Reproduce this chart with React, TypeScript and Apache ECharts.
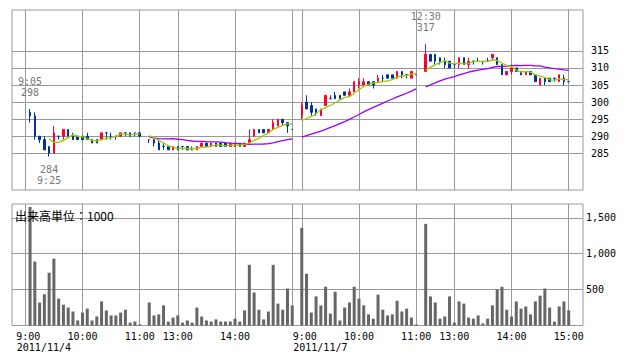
import React, { useEffect, useRef } from 'react';
import * as echarts from 'echarts';

// ---- data ----
const DATES = ['2011/11/4', '2011/11/7'];

// 5-minute bars: [open, close, low, high]
// day 1 morning, 9:05 - 11:00
const day1AM: number[][] = [
  [297, 296, 294, 298], [296, 290, 289, 297], [290, 289, 288, 290], [289, 286, 286, 290],
  [287, 285, 284, 287], [285, 291, 285, 293], [290, 290, 289, 290], [290, 292, 289, 292],
  [292, 290, 290, 292], [290, 289, 289, 291], [290, 289, 289, 290], [290, 289, 289, 290],
  [290, 289, 289, 291], [289, 288, 288, 289], [289, 288, 288, 289], [289, 291, 289, 291],
  [291, 291, 289, 291], [290, 290, 289, 291], [290, 290, 289, 290], [290, 291, 290, 291],
  [291, 291, 290, 291], [291, 290, 290, 291], [291, 291, 290, 291], [291, 290, 290, 291],
];
// day 1 afternoon, 12:30 - 15:00
const day1PM: number[][] = [
  [289, 289, 288, 289], [289, 288, 287, 289], [288, 286, 286, 289], [287, 287, 286, 288],
  [287, 286, 286, 287], [286, 287, 286, 287], [287, 286, 286, 287], [287, 287, 286, 287],
  [287, 286, 286, 287], [286, 286, 286, 287], [286, 287, 286, 287], [287, 288, 287, 288],
  [288, 287, 287, 288], [287, 288, 287, 288], [288, 287, 287, 288], [288, 287, 287, 288],
  [288, 287, 287, 288], [287, 288, 287, 288], [287, 288, 287, 288], [288, 287, 287, 288],
  [287, 288, 287, 288], [288, 289, 288, 292], [290, 292, 290, 292], [292, 291, 291, 292],
  [292, 291, 291, 292], [291, 292, 291, 292], [292, 294, 292, 295], [293, 295, 293, 295],
  [295, 294, 293, 295], [294, 293, 291, 294], [292, 292, 292, 292],
];
// day 2 morning, 9:00 - 11:00
const day2AM: number[][] = [
  [296, 299, 295, 300], [300, 298, 298, 302], [299, 297, 296, 300], [298, 297, 296, 298],
  [296, 298, 296, 298], [299, 302, 299, 302], [301, 301, 301, 302], [302, 301, 301, 303],
  [302, 301, 301, 302], [303, 302, 302, 303], [302, 303, 302, 304], [303, 306, 303, 306],
  [305, 306, 304, 307], [305, 306, 305, 307], [306, 305, 305, 306], [306, 305, 304, 306],
  [306, 307, 306, 308], [307, 307, 306, 308], [308, 307, 307, 308], [308, 307, 307, 308],
  [307, 309, 307, 309], [309, 308, 307, 309], [308, 308, 307, 308], [307, 309, 307, 309],
  [308, 308, 308, 308],
];
// day 2 afternoon, 12:30 - 15:00
const day2PM: number[][] = [
  [309, 314, 309, 317], [314, 312, 312, 314], [314, 312, 311, 314], [313, 312, 311, 313],
  [312, 311, 310, 313], [312, 310, 310, 312], [311, 311, 310, 311], [311, 313, 310, 313],
  [313, 311, 311, 313], [311, 312, 310, 313], [312, 312, 311, 312], [312, 312, 312, 313],
  [312, 312, 311, 312], [312, 312, 312, 313], [313, 314, 312, 314], [313, 311, 311, 313],
  [311, 308, 308, 311], [308, 309, 308, 309], [309, 310, 308, 311], [310, 309, 309, 310],
  [309, 308, 308, 309], [308, 309, 308, 309], [309, 308, 308, 309], [308, 306, 306, 308],
  [305, 307, 305, 307], [307, 306, 305, 307], [307, 306, 306, 307], [307, 307, 306, 307],
  [306, 308, 306, 308], [307, 306, 305, 308], [306, 306, 306, 306],
];

// volume (thousand shares)
const vol1AM = [1650, 890, 320, 435, 735, 930, 375, 290, 250, 195, 70, 180, 235, 70, 125, 335, 210, 140, 140, 180, 220, 40, 55, 15];
const vol1PM = [320, 140, 155, 280, 55, 110, 140, 40, 70, 40, 250, 125, 70, 55, 85, 55, 55, 55, 95, 55, 210, 845, 460, 220, 85, 195, 845, 305, 220, 515, 280];
const vol2AM = [1360, 720, 180, 405, 280, 540, 165, 470, 70, 250, 320, 540, 375, 280, 155, 95, 430, 220, 140, 155, 345, 195, 235, 110, 15];
const vol2PM = [1415, 405, 320, 95, 125, 405, 40, 335, 305, 110, 95, 140, 30, 95, 280, 500, 540, 220, 125, 335, 235, 265, 155, 335, 415, 515, 250, 55, 265, 335, 210];

const SESSIONS = [
  { day: 0, start: '9:05', bars: day1AM, vols: vol1AM },
  { day: 0, start: '12:30', bars: day1PM, vols: vol1PM },
  { day: 1, start: '9:00', bars: day2AM, vols: vol2AM },
  { day: 1, start: '12:30', bars: day2PM, vols: vol2PM },
];

const GRID_TIMES = ['9:00', '10:00', '11:00', '13:00', '14:00', '15:00'];
const PRICE_TICKS = [285, 290, 295, 300, 305, 310, 315];
const VOLUME_TICKS = [500, 1000, 1500];
const ANNOTATIONS = [
  { day: 0, time: '9:05', price: 298, side: 'top' },
  { day: 0, time: '9:25', price: 284, side: 'bottom' },
  { day: 1, time: '12:30', price: 317, side: 'top' },
];
const MA_SHORT = 5;
const MA_LONG = 25;

// ---- compressed intraday time axis: 9:00-11:00, gap, 12:30-15:00, gap ----
const toMin = (t: string) => {
  const [h, m] = t.split(':').map(Number);
  return h * 60 + m;
};
const SLOTS_PER_DAY = 58;
const slotOf = (day: number, t: string) => {
  const m = toMin(t);
  const s = m <= 660 ? (m - 540) / 5 : 26 + (m - 750) / 5;
  return day * SLOTS_PER_DAY + s;
};

const UP = '#ff0033';
const DOWN = '#003399';
const GRID_C = '#999999';
const MONO = '"DejaVu Sans Mono", monospace';
const NBSP = '\u00a0';

function buildOption() {
  const candles: any[] = [];
  const volumes: any[] = [];
  const closes: number[] = [];
  const maS: any[] = [];
  const maL: any[] = [];
  SESSIONS.forEach((sess) => {
    const s0 = slotOf(sess.day, sess.start);
    if (candles.length) {
      maS.push([s0 - 1, null]);
      maL.push([s0 - 1, null]);
    }
    sess.bars.forEach((b, i) => {
      const slot = s0 + i;
      const [o, c, l, h] = b;
      const item: any = { value: [slot, o, c, l, h] };
      if (o === c) item.itemStyle = { color: DOWN, color0: DOWN, borderColor: DOWN, borderColor0: DOWN };
      candles.push(item);
      volumes.push([slot, sess.vols[i]]);
      closes.push(c);
      const n = closes.length;
      const avg = (k: number) => (n >= k ? closes.slice(n - k).reduce((a, v) => a + v, 0) / k : null);
      maS.push([slot, avg(MA_SHORT)]);
      maL.push([slot, avg(MA_LONG)]);
    });
  });

  const gridSlots: number[] = [];
  const labelSlots: number[] = [];
  const labelText: Record<number, string> = {};
  const dateSlots: number[] = [];
  const dateText: Record<number, string> = {};
  DATES.forEach((d, di) => {
    GRID_TIMES.forEach((t, ti) => {
      const s = slotOf(di, t);
      gridSlots.push(s);
      if (ti === 0) {
        dateSlots.push(s);
        dateText[s] = d;
      }
      if (di === 0 && t === '15:00') return;
      labelSlots.push(s);
      labelText[s] = t.length < 5 ? NBSP + t : t;
    });
  });

  const xMin = -2.79;
  const xMax = 117.0;
  const GRID_W = 571;
  // the date line starts a little left of its tick: shift that axis by 8.5px
  const dateShift = (8.5 * (xMax - xMin)) / GRID_W;

  const xBase = {
    type: 'value',
    min: xMin,
    max: xMax,
    axisLine: { show: false },
    splitLine: { show: true, lineStyle: { color: GRID_C, width: 1 } },
  };

  const gridBase = {
    left: 12,
    width: GRID_W,
    show: true,
    borderColor: GRID_C,
    borderWidth: 1,
    backgroundColor: '#fff',
    containLabel: false,
    outerBoundsMode: 'none',
  };

  const axisFont = { color: '#000', fontFamily: MONO, fontSize: 10 };

  return {
    animation: false,
    backgroundColor: '#ffffff',
    title: {
      text: '出来高単位：1000',
      left: 15,
      top: 209,
      padding: 0,
      textStyle: { fontSize: 12, fontWeight: 'normal', color: '#000', fontFamily: '"Noto Sans CJK JP", sans-serif' },
    },
    grid: [
      { ...gridBase, top: 10, height: 180 },
      { ...gridBase, top: 204, height: 121.5 },
    ],
    xAxis: [
      {
        ...xBase,
        gridIndex: 0,
        axisTick: { show: false, customValues: gridSlots },
        axisLabel: { show: false },
      },
      {
        ...xBase,
        gridIndex: 1,
        axisTick: { show: false, customValues: gridSlots },
        axisLabel: {
          ...axisFont,
          show: true,
          customValues: labelSlots,
          showMinLabel: true,
          showMaxLabel: true,
          formatter: (v: number) => labelText[Math.round(v)] ?? '',
          lineHeight: 11,
          margin: 5,
          verticalAlign: 'top',
        },
      },
      {
        type: 'value',
        gridIndex: 1,
        min: xMin + dateShift,
        max: xMax + dateShift,
        position: 'bottom',
        axisLine: { show: false },
        axisTick: { show: false, customValues: dateSlots },
        splitLine: { show: false },
        axisLabel: {
          ...axisFont,
          show: true,
          customValues: dateSlots,
          showMinLabel: true,
          showMaxLabel: true,
          align: 'left',
          formatter: (v: number) => dateText[Math.round(v)] ?? '',
          lineHeight: 11,
          margin: 16,
          verticalAlign: 'top',
        },
      },
    ],
    yAxis: [
      {
        type: 'value',
        gridIndex: 0,
        position: 'right',
        min: 274.24,
        max: 327.0,
        axisLine: { show: false },
        axisTick: { show: false, customValues: PRICE_TICKS },
        axisLabel: { ...axisFont, customValues: PRICE_TICKS, margin: 8 },
        splitLine: { show: true, lineStyle: { color: GRID_C, width: 1 } },
      },
      {
        type: 'value',
        gridIndex: 1,
        position: 'right',
        min: 0,
        max: 1692,
        axisLine: { show: false },
        axisTick: { show: false, customValues: VOLUME_TICKS },
        axisLabel: {
          ...axisFont,
          customValues: VOLUME_TICKS,
          margin: 3,
          formatter: (v: number) => v.toLocaleString('en-US'),
        },
        splitLine: { show: true, lineStyle: { color: GRID_C, width: 1 } },
      },
    ],
    series: [
      {
        type: 'candlestick',
        xAxisIndex: 0,
        yAxisIndex: 0,
        data: candles,
        barWidth: 2,
        itemStyle: { color: UP, color0: DOWN, borderColor: UP, borderColor0: DOWN, borderWidth: 1 },
        markPoint: {
          symbol: 'circle',
          symbolSize: 0,
          silent: true,
          label: { show: true, color: '#777', fontFamily: MONO, fontSize: 10, lineHeight: 11 },
          data: ANNOTATIONS.map((a) => ({
            coord: [slotOf(a.day, a.time), a.price],
            label: {
              position: a.side,
              distance: a.side === 'top' ? 11 : 7,
              formatter: a.side === 'top' ? `${a.time}\n${a.price}` : `${a.price}\n${a.time}`,
            },
          })),
        },
      },
      {
        type: 'line',
        xAxisIndex: 0,
        yAxisIndex: 0,
        data: maL,
        showSymbol: false,
        connectNulls: false,
        lineStyle: { color: '#9900ff', width: 1.3 },
        silent: true,
      },
      {
        type: 'line',
        xAxisIndex: 0,
        yAxisIndex: 0,
        data: maS,
        showSymbol: false,
        connectNulls: false,
        lineStyle: { color: '#99cc00', width: 1.3 },
        silent: true,
      },
      {
        type: 'bar',
        xAxisIndex: 1,
        yAxisIndex: 1,
        data: volumes,
        barWidth: 3,
        itemStyle: { color: '#666666' },
        silent: true,
      },
    ],
  };
}

export default function App() {
  const ref = useRef<HTMLDivElement>(null);
  useEffect(() => {
    document.body.style.margin = '0';
    if (!ref.current) return;
    const chart = echarts.init(ref.current, undefined, { renderer: 'svg' });
    chart.setOption(buildOption() as any);
    return () => chart.dispose();
  }, []);
  return <div ref={ref} style={{ width: 638, height: 362, background: '#fff' }} />;
}
